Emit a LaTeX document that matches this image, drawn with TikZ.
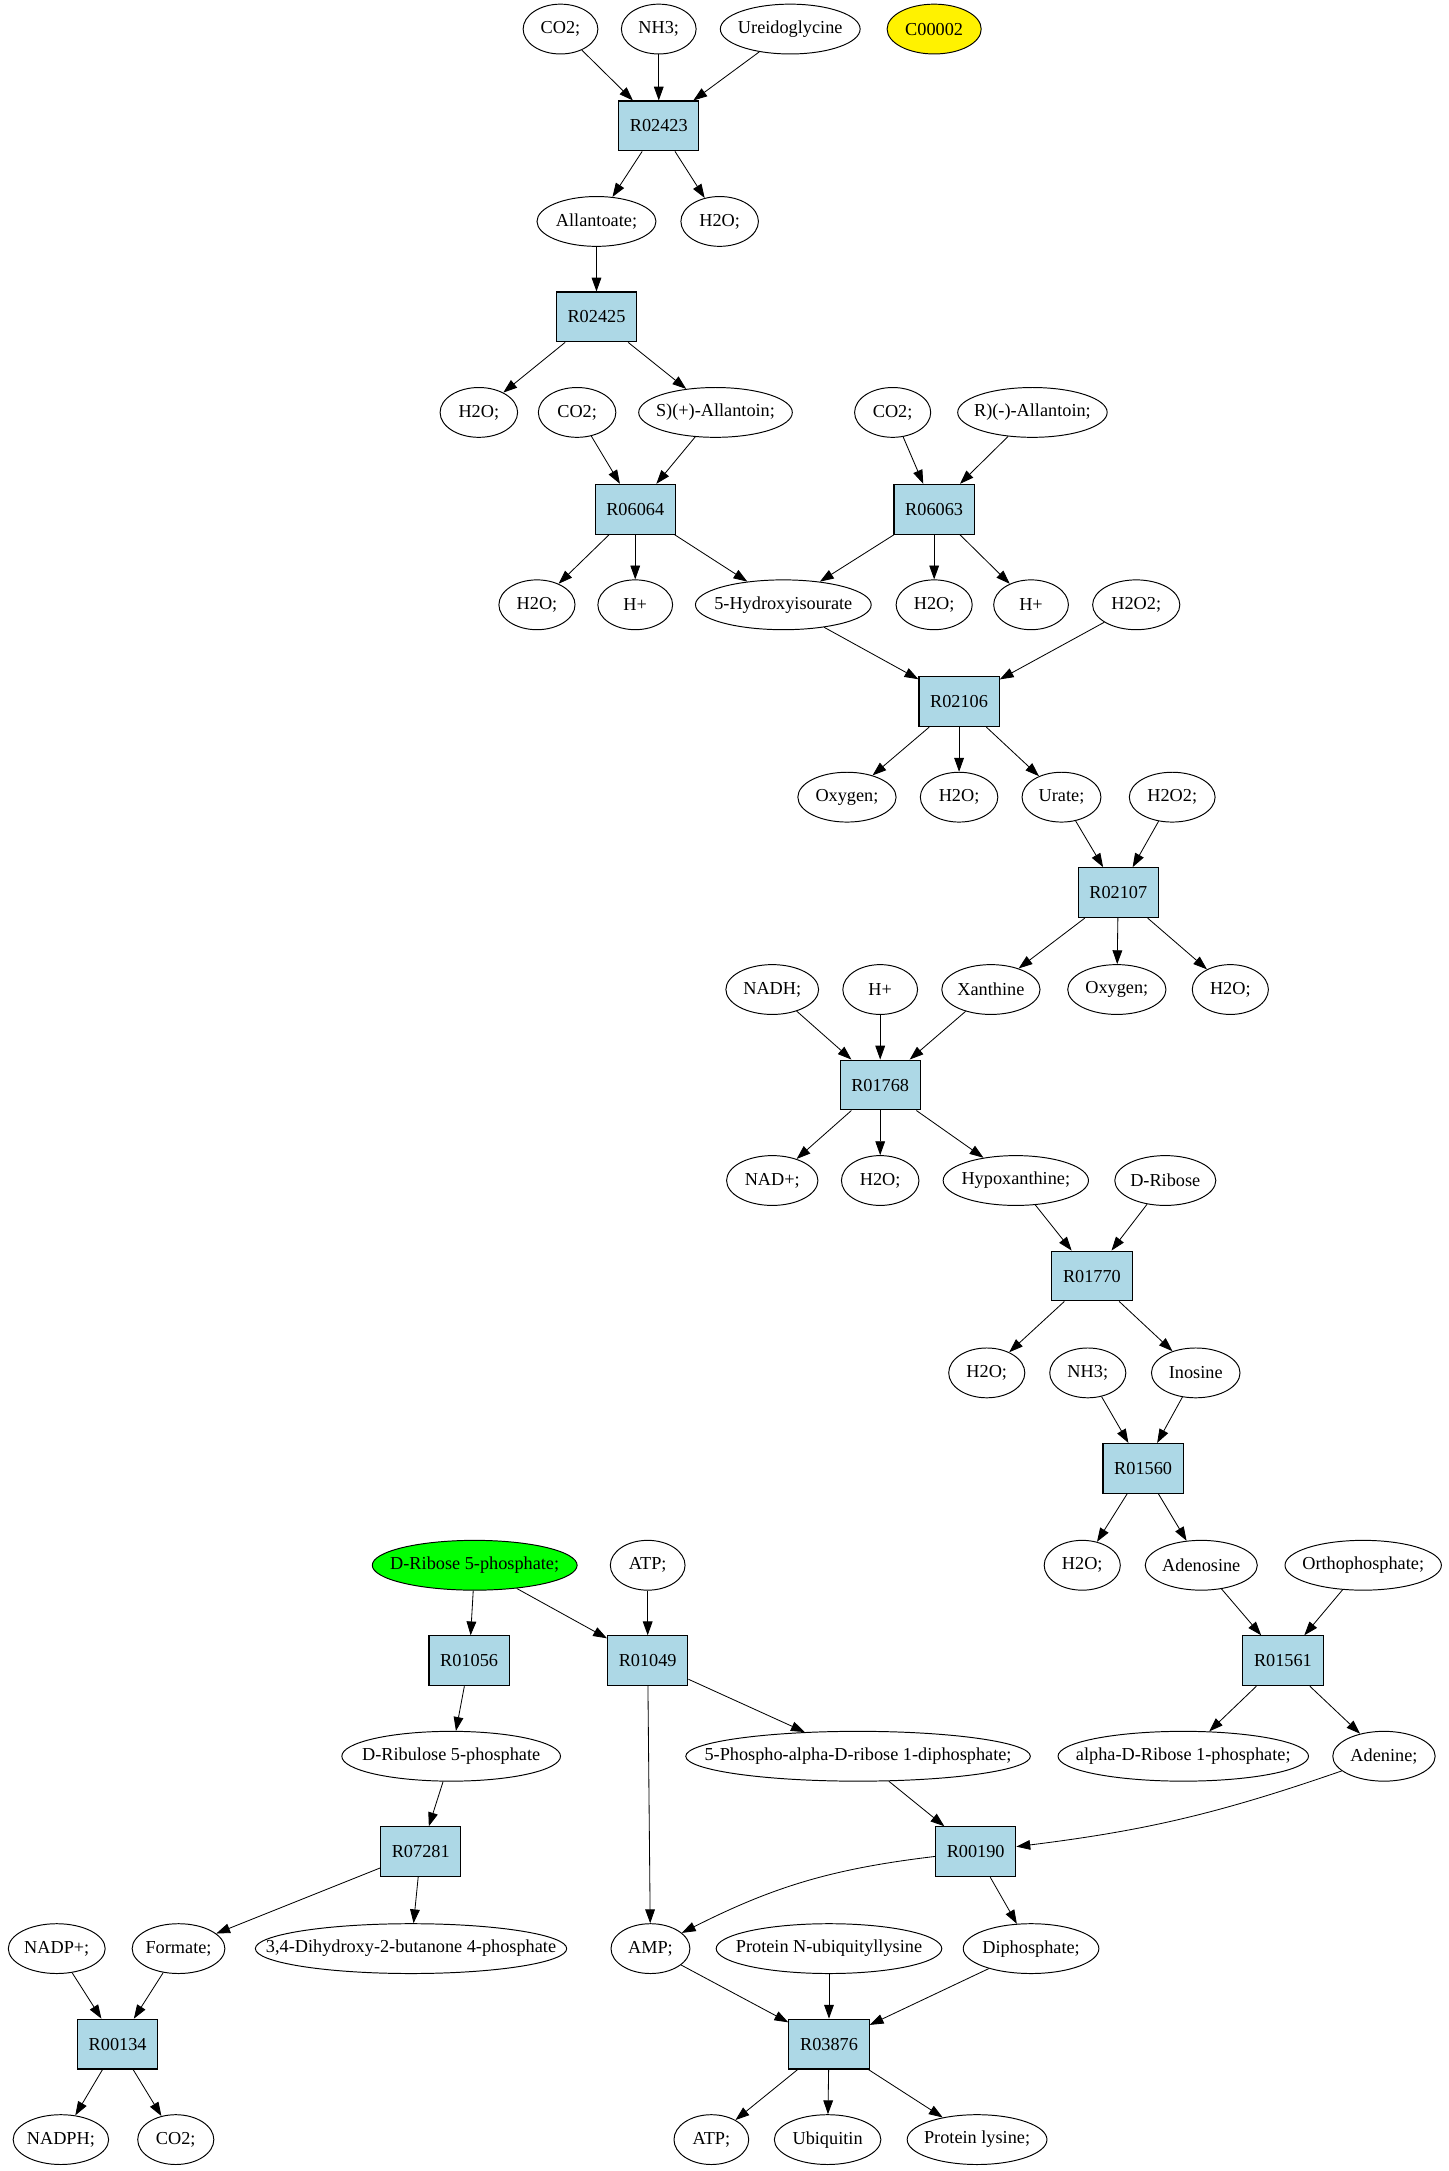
\documentclass[tikz,border=0pt]{standalone}
\usepackage{fontspec}
\setmainfont{Liberation Serif}
\usetikzlibrary{shapes.geometric}
\usetikzlibrary{arrows.meta}
\definecolor{rxnblue}{HTML}{ADD8E6}

\begin{document}
\begin{tikzpicture}[x=1pt,y=-1pt,
  rxn/.style={draw,fill=rxnblue,line width=0.8pt,minimum width=58,minimum height=36,inner sep=0pt,font=\fontsize{13.2}{15}\selectfont},
  met/.style={draw,ellipse,line width=0.7pt,minimum width=#1,minimum height=36,inner xsep=-60pt,inner ysep=0pt,font=\fontsize{13.2}{15}\selectfont},
  flow/.style={-{Triangle[length=10pt,width=7pt]},line width=0.6pt}]
\useasboundingbox (0,0) rectangle (1047,1568.7);
\node[met=54] (co2a) at (405,21) {CO2;};
\node[met=54] (nh3a) at (476,21) {NH3;};
\node[met=101] (ureido) at (571,21) {Ureidoglycine};
\node[met=68,fill=yellow] (c00002) at (675,21) {C00002};
\node[rxn] (R02423) at (476,91) {R02423};
\node[met=86] (allantoate) at (431,160) {Allantoate;};
\node[met=56] (h2oa) at (520,160) {H2O;};
\node[rxn] (R02425) at (431,229) {R02425};
\node[met=56] (h2ob) at (346,298) {H2O;};
\node[met=56] (co2b) at (417,298) {CO2;};
\node[met=111] (sallan) at (517,298) {S)(+)-Allantoin;};
\node[met=55] (co2c) at (645,298) {CO2;};
\node[met=108] (rallan) at (746,298) {R)(-)-Allantoin;};
\node[rxn] (R06064) at (459,368) {R06064};
\node[rxn] (R06063) at (675,368) {R06063};
\node[met=55] (h2oc) at (388,437) {H2O;};
\node[met=54] (hpa) at (459,437) {H+};
\node[met=127] (hiu) at (566,437) {5-Hydroxyisourate};
\node[met=55] (h2od) at (675,437) {H2O;};
\node[met=54] (hpb) at (745,437) {H+};
\node[met=63] (h2o2a) at (821,437) {H2O2;};
\node[rxn] (R02106) at (693,507) {R02106};
\node[met=71] (oxya) at (612,576) {Oxygen;};
\node[met=56] (h2oe) at (693,576) {H2O;};
\node[met=57] (urate) at (767,576) {Urate;};
\node[met=62] (h2o2b) at (847,576) {H2O2;};
\node[rxn] (R02107) at (808,645) {R02107};
\node[met=67] (nadh) at (558,715) {NADH;};
\node[met=54] (hpc) at (636,715) {H+};
\node[met=71] (xan) at (716,715) {Xanthine};
\node[met=71] (oxyb) at (807,715) {Oxygen;};
\node[met=55] (h2of) at (889,715) {H2O;};
\node[rxn] (R01768) at (636,784) {R01768};
\node[met=66] (nadp) at (558,853) {NAD+;};
\node[met=56] (h2og) at (636,853) {H2O;};
\node[met=105] (hypox) at (734,853) {Hypoxanthine;};
\node[met=73] (drib) at (842,853) {D-Ribose};
\node[rxn] (R01770) at (789,922) {R01770};
\node[met=55] (h2oh) at (713,992) {H2O;};
\node[met=55] (nh3b) at (786,992) {NH3;};
\node[met=64] (ino) at (864,992) {Inosine};
\node[rxn] (R01560) at (826,1061) {R01560};
\node[met=148,fill=green] (dr5p) at (343,1131) {D-Ribose 5-phosphate;};
\node[met=54] (atpa) at (468,1131) {ATP;};
\node[met=55] (h2oi) at (782,1131) {H2O;};
\node[met=81] (adeno) at (868,1131) {Adenosine};
\node[met=113] (ortho) at (985,1131) {Orthophosphate;};
\node[rxn] (R01056) at (339,1200) {R01056};
\node[rxn] (R01049) at (468,1200) {R01049};
\node[rxn] (R01561) at (927,1200) {R01561};
\node[met=158] (dru5p) at (326,1269) {D-Ribulose 5-phosphate};
\node[met=249] (prpp) at (620,1269) {5-Phospho-alpha-D-ribose 1-diphosphate;};
\node[met=181] (ar1p) at (855,1269) {alpha-D-Ribose 1-phosphate;};
\node[met=74] (aden) at (1000,1269) {Adenine;};
\node[rxn] (R07281) at (304,1338) {R07281};
\node[rxn] (R00190) at (705,1338) {R00190};
\node[met=70] (nadpp) at (41,1408) {NADP+;};
\node[met=67] (formate) at (129,1408) {Formate;};
\node[met=225] (dhbp) at (297,1408) {3,4-Dihydroxy-2-butanone 4-phosphate};
\node[met=57] (amp) at (470,1408) {AMP;};
\node[met=163] (pnub) at (599,1408) {Protein N-ubiquityllysine};
\node[met=98] (dipho) at (745,1408) {Diphosphate;};
\node[rxn] (R00134) at (85,1477) {R00134};
\node[rxn] (R03876) at (599,1477) {R03876};
\node[met=69] (nadph) at (44,1546) {NADPH;};
\node[met=55] (co2d) at (127,1546) {CO2;};
\node[met=54] (atpb) at (514,1546) {ATP;};
\node[met=77] (ubq) at (598,1546) {Ubiquitin};
\node[met=101] (plys) at (706,1546) {Protein lysine;};

\draw[flow] (co2a) -- (R02423);
\draw[flow] (nh3a) -- (R02423);
\draw[flow] (ureido) -- (R02423);
\draw[flow] (R02423) -- (allantoate);
\draw[flow] (R02423) -- (h2oa);
\draw[flow] (allantoate) -- (R02425);
\draw[flow] (R02425) -- (h2ob);
\draw[flow] (R02425) -- (sallan);
\draw[flow] (co2b) -- (R06064);
\draw[flow] (sallan) -- (R06064);
\draw[flow] (co2c) -- (R06063);
\draw[flow] (rallan) -- (R06063);
\draw[flow] (R06064) -- (h2oc);
\draw[flow] (R06064) -- (hpa);
\draw[flow] (R06064) -- (hiu);
\draw[flow] (R06063) -- (hiu);
\draw[flow] (R06063) -- (h2od);
\draw[flow] (R06063) -- (hpb);
\draw[flow] (hiu) -- (R02106);
\draw[flow] (h2o2a) -- (R02106);
\draw[flow] (R02106) -- (oxya);
\draw[flow] (R02106) -- (h2oe);
\draw[flow] (R02106) -- (urate);
\draw[flow] (urate) -- (R02107);
\draw[flow] (h2o2b) -- (R02107);
\draw[flow] (R02107) -- (xan);
\draw[flow] (R02107) -- (oxyb);
\draw[flow] (R02107) -- (h2of);
\draw[flow] (nadh) -- (R01768);
\draw[flow] (hpc) -- (R01768);
\draw[flow] (xan) -- (R01768);
\draw[flow] (R01768) -- (nadp);
\draw[flow] (R01768) -- (h2og);
\draw[flow] (R01768) -- (hypox);
\draw[flow] (hypox) -- (R01770);
\draw[flow] (drib) -- (R01770);
\draw[flow] (R01770) -- (h2oh);
\draw[flow] (R01770) -- (ino);
\draw[flow] (nh3b) -- (R01560);
\draw[flow] (ino) -- (R01560);
\draw[flow] (R01560) -- (h2oi);
\draw[flow] (R01560) -- (adeno);
\draw[flow] (adeno) -- (R01561);
\draw[flow] (ortho) -- (R01561);
\draw[flow] (R01561) -- (ar1p);
\draw[flow] (R01561) -- (aden);
\draw[flow] (dr5p) -- (R01056);
\draw[flow] (dr5p) -- (R01049);
\draw[flow] (atpa) -- (R01049);
\draw[flow] (R01056) -- (dru5p);
\draw[flow] (R01049) -- (prpp);
\draw[flow] (R01049) -- (amp);
\draw[flow] (dru5p) -- (R07281);
\draw[flow] (R07281) -- (formate);
\draw[flow] (R07281) -- (dhbp);
\draw[flow] (prpp) -- (R00190);
\draw[flow] (aden) to[bend left=6] (R00190);
\draw[flow] (R00190) to[bend right=10] (amp);
\draw[flow] (R00190) -- (dipho);
\draw[flow] (nadpp) -- (R00134);
\draw[flow] (formate) -- (R00134);
\draw[flow] (R00134) -- (nadph);
\draw[flow] (R00134) -- (co2d);
\draw[flow] (amp) -- (R03876);
\draw[flow] (pnub) -- (R03876);
\draw[flow] (dipho) -- (R03876);
\draw[flow] (R03876) -- (atpb);
\draw[flow] (R03876) -- (ubq);
\draw[flow] (R03876) -- (plys);
\end{tikzpicture}
\end{document}
